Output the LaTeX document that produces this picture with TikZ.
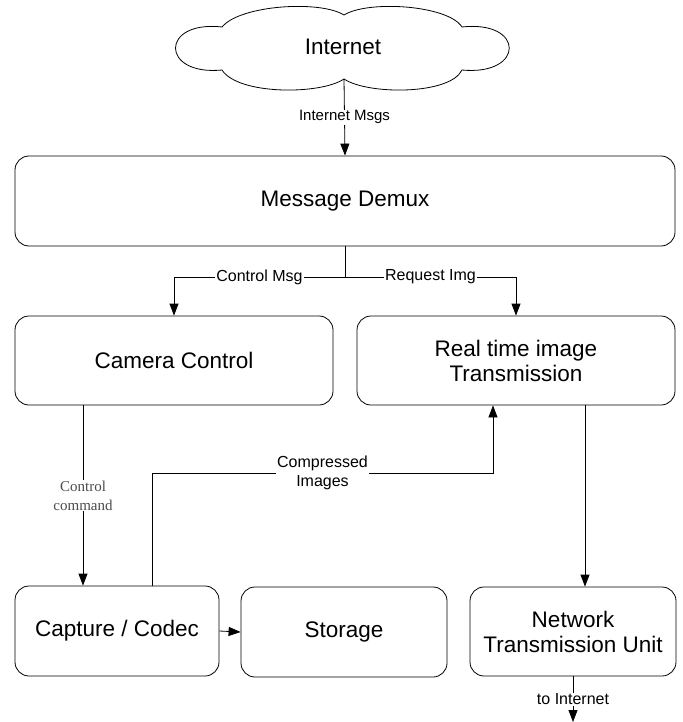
\documentclass[tikz,border=0pt]{standalone}
\usepackage{fontspec}
\setmainfont{Liberation Sans}
\newfontfamily\serifface{Liberation Serif}
\usetikzlibrary{arrows.meta,calc}
\begin{document}
\begin{tikzpicture}[x=1pt,y=-1pt,
  box/.style={draw, rounded corners=14pt, line width=0.8pt, align=center,
    font=\fontsize{22.5}{25}\selectfont, inner sep=0pt},
  conn/.style={line width=0.8pt},
  arr/.style={conn, -{Triangle[length=12pt,width=9pt]}},
  lbl/.style={fill=white, inner sep=1pt, align=center, font=\fontsize{16}{19}\selectfont},
  seriflbl/.style={fill=white, inner sep=1pt, align=center, text=black!70,
    font=\serifface\fontsize{15}{19}\selectfont}]
\useasboundingbox (0,0) rectangle (682,722);
% cloud
\draw[line width=0.8pt] (222,27) .. controls (240,5) and (320,0) .. (344,15)
  .. controls (368,0) and (448,5) .. (462,27)
  .. controls (525,20) and (525,76) .. (462,70)
  .. controls (450,95) and (368,95) .. (344,79)
  .. controls (320,95) and (238,95) .. (222,70)
  .. controls (160,76) and (160,20) .. (222,27) -- cycle;
\node[font=\fontsize{22.5}{25}\selectfont] (inet) at (343,47) {Internet};
\coordinate (cloudb) at (344,79);
% boxes
\node[box, minimum width=660pt, minimum height=90pt] (demux) at (345,201) {Message Demux};
\node[box, minimum width=318pt, minimum height=89pt] (cam) at (174,360.5) {Camera Control};
\node[box, minimum width=318pt, minimum height=89pt] (rt) at (516,360.5) {Real time image\\Transmission};
\node[box, minimum width=204pt, minimum height=90pt] (cap) at (117,631) {Capture / Codec};
\node[box, minimum width=206pt, minimum height=90pt] (sto) at (344,632) {Storage};
\node[box, minimum width=206pt, minimum height=89pt] (net) at (573,631.5) {Network\\Transmission Unit};
% connectors
\draw[arr] (cloudb) -- node[lbl, font=\fontsize{15}{18}\selectfont]{Internet Msgs} (demux.north);
\coordinate (split) at (345,277);
\draw[conn] (demux.south) -- (split);
\draw[arr] (split) -- node[lbl]{Control Msg} (split -| cam.north) -- (cam.north);
\draw[arr] (split) -- node[lbl]{Request Img} (split -| rt.north) -- (rt.north);
\draw[arr] ([xshift=-91pt]cam.south) -- node[seriflbl]{Control\\command} ([xshift=-34pt]cap.north);
\coordinate (cturn) at (493,473);
\draw[arr] ([xshift=35pt]cap.north) |- node[pos=0.75, lbl]{Compressed\\Images} (cturn) -- ([xshift=-23pt]rt.south);
\draw[arr] ([xshift=69pt]rt.south) -- ([xshift=12pt]net.north);
\draw[arr] (cap.east) -- (sto.west);
\coordinate (out) at (573,722);
\draw[arr] (net.south) -- node[lbl]{to Internet} (out);
\end{tikzpicture}
\end{document}
